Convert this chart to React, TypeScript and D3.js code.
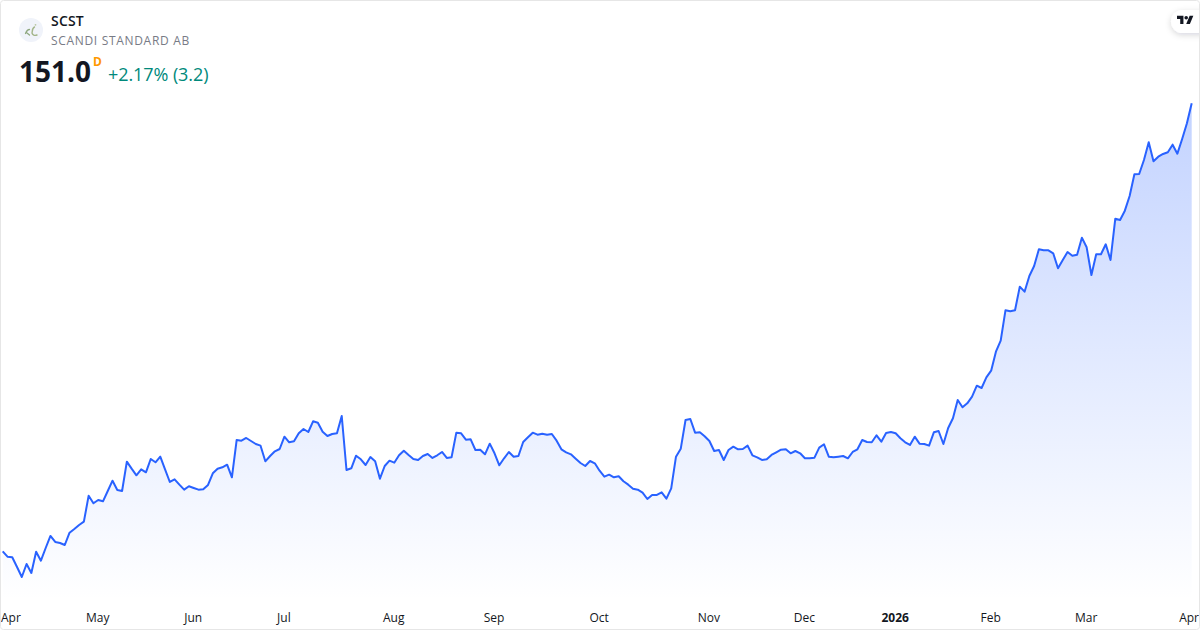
import React, { useRef, useEffect } from "react";
import * as d3 from "d3";

// SCST daily closes
const closes: number[] = [
  79.32, 78.46, 78.36, 76.81, 75.21, 77.29, 75.85, 79.26, 77.82, 79.85,
  81.77, 80.81, 80.65, 80.33, 82.3, 82.89, 83.53, 84.06, 88.22, 87.0,
  87.53, 87.32, 88.97, 90.62, 89.13, 88.97, 93.66, 92.54, 91.48, 92.44,
  91.96, 94.09, 93.56, 94.46, 92.44, 90.41, 90.84, 89.98, 89.18, 89.72,
  89.45, 89.18, 89.24, 89.93, 91.8, 92.54, 92.76, 93.18, 91.16, 97.13,
  97.02, 97.45, 96.97, 96.49, 96.22, 93.72, 94.57, 95.32, 95.69, 97.66,
  96.76, 96.92, 98.2, 98.89, 98.41, 100.12, 99.9, 98.46, 97.77, 98.09,
  98.2, 100.97, 92.33, 92.6, 94.62, 94.04, 93.13, 94.41, 93.72, 90.94,
  92.97, 93.82, 93.5, 94.68, 95.42, 94.73, 94.09, 93.93, 94.57, 94.89,
  94.25, 94.68, 95.21, 94.25, 94.36, 98.3, 98.2, 97.18, 97.24, 95.53,
  95.58, 94.84, 96.54, 95.0, 93.08, 94.2, 95.21, 94.46, 94.57, 96.81,
  97.56, 98.3, 97.98, 98.14, 97.98, 98.09, 97.02, 95.64, 95.16, 94.84,
  94.14, 93.45, 92.97, 93.77, 93.4, 92.22, 91.26, 91.58, 91.16, 91.32,
  90.52, 89.98, 89.34, 89.18, 88.7, 87.69, 88.33, 88.33, 88.76, 87.74,
  89.4, 94.46, 95.74, 100.33, 100.49, 98.3, 98.36, 97.72, 96.97, 95.37,
  95.53, 93.93, 95.53, 96.06, 95.64, 95.69, 96.22, 94.68, 94.36, 93.93,
  94.04, 94.73, 95.16, 95.58, 95.64, 95.0, 95.37, 95.0, 94.2, 94.2,
  94.3, 95.9, 96.44, 94.46, 94.36, 94.46, 94.57, 94.2, 95.21, 95.64,
  97.13, 96.81, 96.76, 97.88, 96.86, 98.25, 98.41, 98.2, 97.4, 96.76,
  96.33, 97.66, 96.54, 96.49, 96.22, 98.36, 98.57, 96.49, 99.05, 100.6,
  103.53, 102.36, 103.0, 104.06, 105.82, 105.45, 107.16, 108.22, 111.26, 113.02,
  117.88, 117.72, 117.88, 121.66, 120.86, 123.37, 124.97, 127.64, 127.48, 127.48,
  127.0, 124.6, 125.93, 127.21, 126.62, 126.78, 129.5, 127.96, 123.53, 126.84,
  126.84, 128.44, 125.93, 132.54, 132.33, 133.82, 136.17, 139.64, 139.69, 141.93,
  144.76, 141.72, 142.46, 142.89, 143.16, 144.38, 142.94, 145.29, 147.8, 151.0,
];

const tickLabels = ["Apr", "May", "Jun", "Jul", "Aug", "Sep", "Oct", "Nov", "Dec", "2026", "Feb", "Mar", "Apr"];
const tickIndexes = [0, 20, 40, 59, 82, 103, 125, 148, 168, 187, 207, 227, 248];

const ticker = "SCST";
const companyName = "SCANDI STANDARD AB";
const lastPrice = "151.0";
const priceChange = "+2.17% (3.2)";

const width = 1200;
const height = 630;
const fontFamily = "'Open Sans', 'Noto Sans', sans-serif";

const App: React.FC = () => {
  const svgRef = useRef<SVGSVGElement | null>(null);

  useEffect(() => {
    const svg = d3.select(svgRef.current);
    svg.selectAll("*").remove();

    const xScale = d3.scaleLinear().domain([0, closes.length - 1]).range([2.7, 1191.7]);
    const yScale = d3.scaleLinear().domain([70, 151]).range([609.55, 103.3]);

    svg.append("rect").attr("width", width).attr("height", height).attr("fill", "#ffffff");

    const defs = svg.append("defs");
    const grad = defs
      .append("linearGradient")
      .attr("id", "areaFill")
      .attr("gradientUnits", "userSpaceOnUse")
      .attr("x1", 0)
      .attr("x2", 0)
      .attr("y1", yScale(151))
      .attr("y2", 600);
    grad.append("stop").attr("offset", "0%").attr("stop-color", "#2962ff").attr("stop-opacity", 0.28);
    grad.append("stop").attr("offset", "100%").attr("stop-color", "#2962ff").attr("stop-opacity", 0);

    const shadow = defs.append("filter").attr("id", "pillShadow").attr("x", "-30%").attr("y", "-50%").attr("width", "160%").attr("height", "220%");
    shadow
      .append("feDropShadow")
      .attr("dx", 0)
      .attr("dy", 2)
      .attr("stdDeviation", 3)
      .attr("flood-color", "#131722")
      .attr("flood-opacity", 0.16);

    // Area and line
    const area = d3
      .area<number>()
      .x((_, i) => xScale(i))
      .y0(600)
      .y1((d) => yScale(d));
    svg.append("path").datum(closes).attr("fill", "url(#areaFill)").attr("d", area);

    const line = d3
      .line<number>()
      .x((_, i) => xScale(i))
      .y((d) => yScale(d));
    svg
      .append("path")
      .datum(closes)
      .attr("fill", "none")
      .attr("stroke", "#2962ff")
      .attr("stroke-width", 2)
      .attr("stroke-linejoin", "round")
      .attr("d", line);

    // Time axis
    const xAxis = d3
      .axisBottom(xScale)
      .tickValues(tickIndexes)
      .tickSize(0)
      .offset(0)
      .tickFormat((_, i) => tickLabels[i]);
    const axisG = svg.append("g").attr("transform", "translate(0,600)").call(xAxis as any);
    axisG.select(".domain").remove();
    axisG
      .selectAll<SVGTextElement, number>("text")
      .attr("y", 22)
      .attr("dy", 0)
      .attr("x", -0.5)
      .attr("fill", "#131722")
      .style("font-family", fontFamily)
      .style("font-size", "12px")
      .style("font-weight", (_, i) => (tickLabels[i] === "2026" ? 700 : 400));
    // The outer labels are pushed inside the frame
    axisG.selectAll<SVGTextElement, number>("text").each(function (_, i) {
      if (i === 0) d3.select(this).attr("text-anchor", "start").attr("x", 1 - xScale(tickIndexes[0]));
      if (i === tickLabels.length - 1) d3.select(this).attr("text-anchor", "end").attr("x", 1199 - xScale(tickIndexes[i]));
    });

    // Header
    const header = svg.append("g").style("font-family", fontFamily);
    header.append("circle").attr("cx", 31).attr("cy", 30).attr("r", 12).attr("fill", "#f0f3fa");
    header
      .append("path")
      .attr("d", "M34.5 27 C32 28 32.5 31 32 33 C32.5 35 34.5 36 37 35")
      .attr("fill", "none")
      .attr("stroke", "#a3b58a")
      .attr("stroke-width", 1.4)
      .attr("stroke-linecap", "round");
    header
      .append("path")
      .attr("d", "M25.5 33.5 C26.5 31 28 29.5 29.5 29.5 M27 33 L29.5 35")
      .attr("fill", "none")
      .attr("stroke", "#8fa880")
      .attr("stroke-width", 1.3)
      .attr("stroke-linecap", "round");
    header.append("circle").attr("cx", 35.5).attr("cy", 24.8).attr("r", 0.9).attr("fill", "#b9c7a3");
    header.append("text").attr("x", 51).attr("y", 26).attr("font-size", 14).attr("font-weight", 600).attr("letter-spacing", 0.2).attr("fill", "#131722").text(ticker);
    header.append("text").attr("x", 51).attr("y", 45).attr("font-size", 12).attr("fill", "#787b86").attr("letter-spacing", 0.68).text(companyName);
    header.append("text").attr("x", 19).attr("y", 82).attr("font-size", 28).attr("font-weight", 700).attr("fill", "#131722").text(lastPrice);
    header.append("text").attr("x", 93).attr("y", 66).attr("font-size", 12).attr("font-weight", 700).attr("fill", "#ff9800").text("D");
    header.append("text").attr("x", 108).attr("y", 81).attr("font-size", 18).attr("letter-spacing", -0.08).attr("fill", "#00897b").text(priceChange);

    // TV badge
    svg
      .append("rect")
      .attr("x", 1171)
      .attr("y", 10)
      .attr("width", 50)
      .attr("height", 23)
      .attr("rx", 11.5)
      .attr("fill", "#ffffff")
      .attr("filter", "url(#pillShadow)");
    svg
      .append("path")
      .attr("transform", "translate(1177,14) scale(0.46)")
      .attr("fill", "#131722")
      .attr("d", "M14 22H7V11H0V4h14v18zM28 22h-8l7.5-18h8L28 22z");
    svg.append("circle").attr("cx", 1186.2).attr("cy", 17.7).attr("r", 1.8).attr("fill", "#131722");

    // Frame
    svg
      .append("rect")
      .attr("x", 0.5)
      .attr("y", 0.5)
      .attr("width", width - 1)
      .attr("height", height - 1)
      .attr("rx", 3)
      .attr("fill", "none")
      .attr("stroke", "#e6e6e6");
  }, []);

  return (
    <svg
      ref={svgRef}
      width={width}
      height={height}
      style={{ position: "absolute", left: 0, top: 0, display: "block" }}
    />
  );
};

export default App;
